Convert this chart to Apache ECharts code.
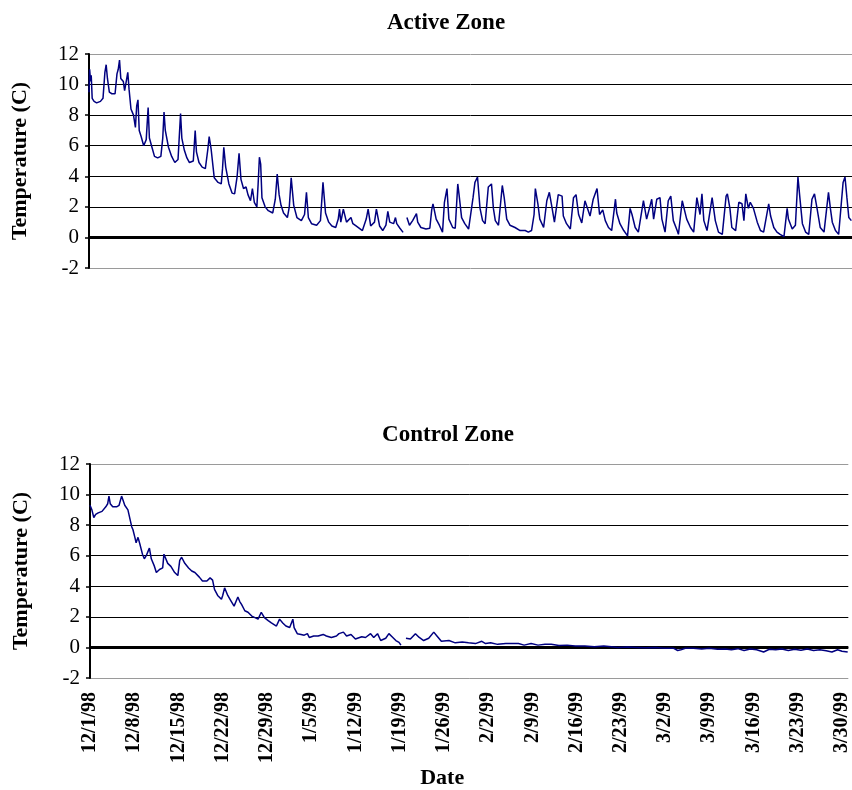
<!DOCTYPE html>
<html>
<head>
<meta charset="utf-8">
<script src="https://cdn.jsdelivr.net/npm/echarts@6/dist/echarts.min.js"></script>
<style>
  html, body { margin: 0; padding: 0; background: #fff; }
  #chart { width: 852px; height: 790px; }
</style>
</head>
<body>
<div id="chart"></div>
<script>
// Day offsets counted from 12/1/98
const dateTicks = ['12/1/98','12/8/98','12/15/98','12/22/98','12/29/98','1/5/99','1/12/99','1/19/99','1/26/99','2/2/99','2/9/99','2/16/99','2/23/99','3/2/99','3/9/99','3/16/99','3/23/99','3/30/99'];
const tempTicks = [-2, 0, 2, 4, 6, 8, 10, 12];

// Active zone readings: [day offset, temperature C]
const activeReadings = [
[0.0,9.5],[0.1,11.0],[0.25,10.2],[0.35,10.6],[0.5,9.1],[0.8,8.9],[1.2,8.8],[1.5,8.7],[1.8,8.9],[2.2,9.1],[2.5,10.8],[2.7,11.3],[2.9,10.4],[3.2,9.5],[3.6,9.4],[4.1,9.4],[4.4,10.7],[4.6,11.0],[4.8,11.6],[5.0,10.4],[5.4,10.2],[5.6,9.6],[5.9,10.3],[6.1,10.8],[6.3,9.7],[6.6,8.4],[7.0,8.0],[7.3,7.2],[7.5,8.6],[7.7,9.0],[7.9,7.0],[8.2,6.6],[8.6,6.0],[9.0,6.4],[9.3,8.5],[9.5,6.5],[9.9,5.9],[10.3,5.3],[10.8,5.2],[11.3,5.3],[11.6,6.5],[11.8,8.2],[12.0,7.0],[12.5,5.9],[13.0,5.3],[13.5,4.9],[14.0,5.1],[14.4,8.1],[14.6,6.5],[15.0,5.7],[15.4,5.2],[15.8,4.9],[16.4,5.0],[16.7,7.0],[16.9,5.6],[17.3,4.9],[17.8,4.6],[18.3,4.5],[18.7,5.8],[18.9,6.6],[19.2,5.8],[19.7,3.9],[20.3,3.6],[20.8,3.5],[21.0,4.5],[21.2,5.9],[21.5,4.6],[22.0,3.5],[22.5,2.9],[22.9,2.85],[23.3,4.0],[23.6,5.5],[23.9,3.8],[24.3,3.2],[24.7,3.3],[25.0,2.8],[25.4,2.4],[25.7,3.2],[26.0,2.3],[26.4,2.0],[26.6,3.5],[26.8,5.25],[27.0,4.8],[27.2,2.6],[27.7,2.0],[28.2,1.75],[28.9,1.6],[29.3,2.5],[29.6,4.15],[29.9,2.8],[30.2,2.1],[30.6,1.6],[31.2,1.3],[31.5,2.0],[31.8,3.9],[32.2,2.1],[32.7,1.3],[33.4,1.1],[33.9,1.5],[34.2,2.95],[34.5,1.3],[35.0,0.9],[35.8,0.8],[36.4,1.1],[36.8,3.6],[37.2,1.6],[37.7,1.0],[38.2,0.75],[38.8,0.65],[39.2,1.2],[39.4,1.85],[39.6,1.0],[40.0,1.85],[40.5,1.0],[41.2,1.3],[41.5,0.9],[42.0,0.75],[43.0,0.45],[43.6,1.2],[43.9,1.85],[44.3,0.75],[44.9,1.0],[45.2,1.85],[45.7,0.75],[46.2,0.45],[46.7,0.8],[47.0,1.7],[47.3,1.0],[47.9,0.9],[48.2,1.3],[48.4,0.9],[48.9,0.6],[49.4,0.33],[49.7,'-'],
[50.0,1.3],[50.4,0.8],[50.9,1.1],[51.5,1.55],[51.7,1.0],[52.2,0.65],[53.0,0.55],[53.6,0.6],[53.9,1.8],[54.1,2.2],[54.3,1.8],[54.6,1.2],[55.1,0.8],[55.6,0.35],[55.9,2.3],[56.3,3.2],[56.6,1.2],[57.2,0.65],[57.6,0.6],[57.9,2.8],[58.0,3.5],[58.2,2.8],[58.6,1.3],[59.1,0.9],[59.7,0.55],[60.4,2.6],[60.7,3.6],[61.1,3.95],[61.5,1.9],[61.9,1.1],[62.3,0.9],[62.8,3.3],[63.3,3.5],[63.6,1.9],[63.9,1.1],[64.4,0.8],[65.0,3.4],[65.3,2.6],[65.7,1.2],[66.2,0.8],[67.0,0.65],[67.8,0.45],[68.6,0.45],[69.1,0.35],[69.6,0.45],[70.0,1.5],[70.2,3.2],[70.6,2.2],[70.9,1.2],[71.5,0.65],[72.0,2.4],[72.4,2.95],[72.8,2.0],[73.2,1.0],[73.4,0.9],[73.8,2.8],[74.4,2.7],[74.6,1.4],[75.1,0.9],[75.7,0.55],[76.2,2.6],[76.6,2.8],[77.0,1.5],[77.5,0.95],[78.0,2.4],[78.3,2.3],[78.8,1.4],[79.3,2.5],[79.9,3.2],[80.3,1.5],[80.6,1.4],[80.8,1.8],[81.2,1.1],[81.7,0.65],[82.2,0.45],[82.8,2.5],[83.0,1.6],[83.5,0.9],[84.1,0.45],[84.7,0.1],[85.1,1.9],[85.4,1.5],[85.9,0.65],[86.4,0.35],[86.7,0.25],[87.2,2.4],[87.7,1.2],[88.2,2.0],[88.5,2.5],[88.8,1.2],[89.3,2.5],[89.8,2.6],[90.1,1.2],[90.6,0.35],[91.1,2.4],[91.5,2.7],[91.9,1.1],[92.5,0.45],[92.7,0.2],[93.3,2.4],[93.5,2.3],[94.0,1.2],[94.6,0.65],[95.1,0.35],[95.6,2.6],[96.1,1.5],[96.4,2.85],[96.7,1.1],[97.2,0.45],[98.0,2.6],[98.2,2.0],[98.5,1.1],[99.0,0.35],[99.6,0.2],[100.2,2.7],[100.4,2.85],[100.8,1.9],[101.1,0.65],[101.7,0.45],[102.2,2.3],[102.7,2.2],[103.0,1.1],[103.3,2.85],[103.7,1.9],[104.0,2.3],[104.5,1.9],[104.8,2.0],[105.1,1.0],[105.6,0.45],[106.1,0.35],[106.9,2.2],[107.2,1.4],[107.7,0.65],[108.2,0.35],[108.7,0.2],[109.3,0.05],[109.8,1.9],[110.0,1.2],[110.6,0.55],[111.1,0.8],[111.5,3.95],[111.8,2.6],[112.2,0.9],[112.7,0.35],[113.2,0.2],[113.7,2.5],[114.1,2.85],[114.5,1.9],[115.0,0.65],[115.6,0.35],[116.3,2.95],[116.6,1.9],[116.9,1.0],[117.4,0.45],[117.9,0.2],[118.6,3.6],[118.9,3.95],[119.2,2.6],[119.5,1.3],[119.9,1.1]
];

// Control zone readings: [day offset, temperature C]
const controlReadings = [
[0.0,9.3],[0.1,9.2],[0.3,9.0],[0.6,8.5],[0.9,8.7],[1.3,8.8],[1.6,8.7],[1.9,8.9],[2.2,9.0],[2.5,9.2],[2.8,9.4],[3.0,9.9],[3.2,9.4],[3.6,9.2],[4.2,9.2],[4.6,9.3],[5.0,9.9],[5.2,9.8],[5.5,9.3],[6.0,9.0],[6.3,8.9],[6.6,7.9],[6.8,7.7],[7.1,7.2],[7.3,6.85],[7.6,7.2],[7.9,6.75],[8.3,6.1],[8.6,5.8],[8.9,6.0],[9.2,6.3],[9.4,6.5],[9.7,5.8],[10.2,5.3],[10.5,4.9],[11.0,5.1],[11.5,5.2],[11.7,6.1],[11.9,6.0],[12.3,5.5],[12.8,5.3],[13.4,4.9],[13.9,4.7],[14.2,5.7],[14.5,5.9],[15.0,5.5],[15.6,5.2],[16.1,5.0],[16.6,4.9],[16.9,5.0],[17.3,4.6],[17.8,4.35],[18.5,4.35],[19.0,4.55],[19.4,4.4],[19.7,3.8],[20.2,3.4],[20.8,3.15],[21.0,3.4],[21.3,3.9],[21.8,3.4],[22.3,3.05],[22.8,2.7],[23.4,3.3],[23.7,3.0],[24.0,2.8],[24.5,2.4],[25.0,2.3],[25.6,2.05],[26.1,1.95],[26.6,1.85],[27.1,2.3],[27.6,1.95],[28.2,1.75],[28.7,1.6],[29.5,1.4],[30.0,1.85],[30.5,1.6],[31.0,1.4],[31.6,1.3],[32.1,1.85],[32.3,1.3],[32.8,0.9],[33.4,0.85],[33.9,0.8],[34.4,0.9],[34.7,0.65],[35.4,0.75],[36.1,0.75],[36.9,0.85],[37.4,0.75],[38.2,0.65],[39.0,0.75],[39.4,0.9],[40.1,1.0],[40.6,0.75],[41.3,0.85],[42.0,0.55],[42.3,0.45],[43.0,0.7],[43.6,0.65],[44.4,0.9],[44.9,0.65],[45.5,0.9],[46.0,0.45],[46.8,0.6],[47.3,0.9],[47.8,0.7],[48.4,0.45],[48.9,0.33],[49.2,0.15],[49.6,'-'],
[50.0,0.6],[50.7,0.55],[51.5,0.9],[52.1,0.65],[52.8,0.45],[53.6,0.6],[54.4,1.0],[54.9,0.75],[55.6,0.4],[56.8,0.45],[57.8,0.3],[58.9,0.35],[59.9,0.3],[61.0,0.25],[62.0,0.4],[62.6,0.25],[63.4,0.3],[64.5,0.2],[65.8,0.25],[66.8,0.25],[67.8,0.25],[68.7,0.15],[69.8,0.25],[70.9,0.15],[72.0,0.2],[73.0,0.2],[74.2,0.12],[75.5,0.15],[76.8,0.1],[78.3,0.1],[79.8,0.05],[81.3,0.1],[82.5,0.05],[83.5,0.0],[85.0,0.02],[86.5,0.0],[88.0,-0.02],[89.5,0.0],[91.0,-0.05],[92.3,-0.05],[93.0,-0.2],[93.5,-0.15],[94.2,-0.05],[95.5,-0.05],[96.8,-0.1],[98.0,-0.05],[99.3,-0.12],[100.5,-0.1],[101.5,-0.15],[102.5,-0.08],[103.5,-0.2],[104.5,-0.1],[105.5,-0.15],[106.6,-0.3],[107.5,-0.12],[108.5,-0.15],[109.5,-0.1],[110.5,-0.2],[111.5,-0.12],[112.5,-0.18],[113.5,-0.1],[114.5,-0.2],[115.5,-0.15],[116.5,-0.22],[117.4,-0.3],[118.3,-0.15],[119.0,-0.25],[119.9,-0.3]
];

const SERIF = '"Liberation Serif", "Times New Roman", serif';
const gridLineColors = tempTicks.map((t, i) => (i === 0 || i === tempTicks.length - 1) ? '#9a9a9a' : '#000');

function yAxisCfg(gridIndex) {
  return {
    gridIndex: gridIndex, type: 'value', min: tempTicks[0], max: tempTicks[tempTicks.length - 1], interval: 2,
    name: 'Temperature (C)', nameLocation: 'middle', nameRotate: 90, nameGap: 58,
    nameTextStyle: { fontFamily: SERIF, fontSize: 22, fontWeight: 'bold', color: '#000' },
    axisLine: { show: true, lineStyle: { color: '#000', width: 2 } },
    axisTick: { show: true, length: 4, lineStyle: { color: '#000', width: 1.5 } },
    axisLabel: { fontFamily: SERIF, fontSize: 21, color: '#000', margin: 10 },
    splitLine: { show: true, lineStyle: { color: gridLineColors, width: 1 } }
  };
}
function zeroLine() {
  return { silent: true, symbol: 'none', z: 1, label: { show: false },
           lineStyle: { color: '#000', width: 3, type: 'solid' }, data: [{ yAxis: 0 }] };
}

const chart = echarts.init(document.getElementById('chart'), null, { renderer: 'canvas' });
chart.setOption({
  animation: false,
  backgroundColor: '#fff',
  title: [
    { text: 'Active Zone', left: 441, top: 7, textAlign: 'center',
      textStyle: { fontFamily: SERIF, fontSize: 23, fontWeight: 'bold', color: '#000' } },
    { text: 'Control Zone', left: 443, top: 419, textAlign: 'center',
      textStyle: { fontFamily: SERIF, fontSize: 23, fontWeight: 'bold', color: '#000' } }
  ],
  grid: [
    { left: 89, right: 0, top: 54, height: 214 },
    { left: 90, right: 0, top: 464, height: 216 }
  ],
  xAxis: [
    { gridIndex: 0, type: 'value', min: 0, max: 120, interval: 7,
      axisLine: { show: false }, axisTick: { show: false }, axisLabel: { show: false }, splitLine: { show: false } },
    { gridIndex: 1, type: 'value', min: 0, max: 120, interval: 7,
      name: 'Date', nameLocation: 'middle', nameGap: 89,
      nameTextStyle: { fontFamily: SERIF, fontSize: 22, fontWeight: 'bold', color: '#000', padding: [0, 54, 0, 0] },
      axisLine: { show: false }, axisTick: { show: false }, splitLine: { show: false },
      axisLabel: { rotate: 90, margin: 14, fontFamily: SERIF, fontSize: 20, fontWeight: 'bold', color: '#000',
        showMaxLabel: false,
        formatter: function (v) { return (v % 7 === 0 && dateTicks[v / 7]) ? dateTicks[v / 7] : ''; } } }
  ],
  yAxis: [yAxisCfg(0), yAxisCfg(1)],
  series: [
    { name: 'Active', type: 'line', xAxisIndex: 0, yAxisIndex: 0, data: activeReadings,
      showSymbol: false, connectNulls: false, z: 3,
      lineStyle: { color: '#000080', width: 1.5 }, itemStyle: { color: '#000080' }, markLine: zeroLine() },
    { name: 'Control', type: 'line', xAxisIndex: 1, yAxisIndex: 1, data: controlReadings,
      showSymbol: false, connectNulls: false, z: 3,
      lineStyle: { color: '#000080', width: 1.5 }, itemStyle: { color: '#000080' }, markLine: zeroLine() }
  ]
});
</script>
</body>
</html>
